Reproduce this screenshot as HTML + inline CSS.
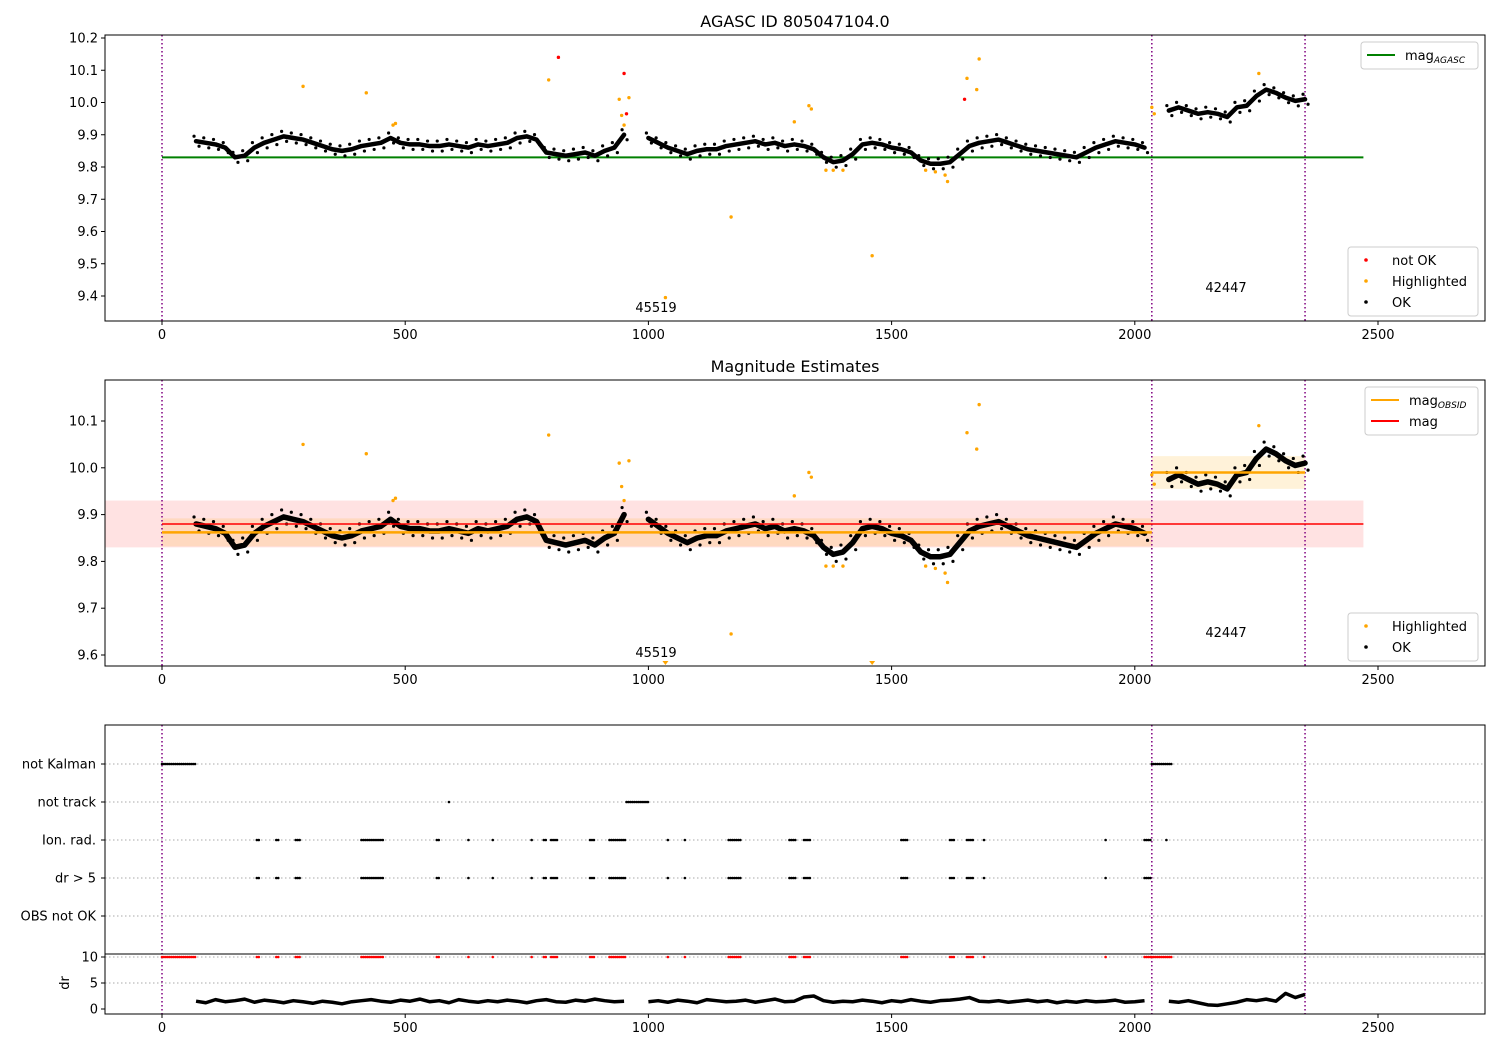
<!DOCTYPE html>
<html><head><meta charset="utf-8"><style>
body{margin:0;background:#fff;font-family:"Liberation Sans","DejaVu Sans",sans-serif}
svg text{font-family:"DejaVu Sans","Liberation Sans",sans-serif;fill:#000}
</style></head><body>
<svg id="chart" width="1500" height="1050" xmlns="http://www.w3.org/2000/svg"></svg>
<script>
const obsT=[70,90,110,130,150,170,190,210,230,250,270,290,310,330,350,370,390,410,430,450,470,490,510,530,550,570,590,610,630,650,670,690,710,730,750,770,790,810,830,850,870,890,910,930,950,970,1000,1020,1040,1060,1080,1100,1120,1140,1160,1180,1200,1220,1240,1260,1280,1300,1320,1340,1360,1380,1400,1420,1440,1460,1480,1500,1520,1540,1560,1580,1600,1620,1640,1660,1680,1700,1720,1740,1760,1780,1800,1820,1840,1860,1880,1900,1920,1940,1960,1980,2000,2020,2040,2070,2090,2110,2130,2150,2170,2190,2210,2230,2250,2270,2290,2310,2330,2350];
const obsMag=[9.88,9.875,9.87,9.86,9.83,9.835,9.86,9.875,9.885,9.895,9.89,9.885,9.875,9.865,9.855,9.85,9.855,9.865,9.87,9.875,9.89,9.875,9.87,9.87,9.865,9.865,9.87,9.865,9.86,9.87,9.865,9.87,9.875,9.89,9.895,9.885,9.845,9.84,9.835,9.84,9.845,9.835,9.85,9.86,9.9,null,9.89,9.875,9.86,9.85,9.84,9.85,9.855,9.855,9.865,9.87,9.875,9.88,9.87,9.875,9.865,9.87,9.865,9.855,9.83,9.815,9.82,9.84,9.87,9.875,9.87,9.86,9.855,9.845,9.82,9.81,9.81,9.815,9.84,9.865,9.875,9.88,9.885,9.875,9.865,9.855,9.85,9.845,9.84,9.835,9.83,9.845,9.86,9.87,9.88,9.875,9.87,9.86,null,9.975,9.985,9.975,9.965,9.97,9.965,9.955,9.985,9.99,10.02,10.04,10.03,10.015,10.005,10.01];
const drVals=[1.5,1.2,1.8,1.4,1.6,1.9,1.3,1.7,1.5,1.2,1.6,1.4,1.1,1.5,1.3,1.0,1.4,1.6,1.8,1.5,1.3,1.7,1.5,1.9,1.4,1.6,1.2,1.8,1.5,1.3,1.6,1.4,1.7,1.5,1.2,1.6,1.8,1.4,1.3,1.7,1.5,1.9,1.6,1.4,1.5,null,1.4,1.6,1.3,1.7,1.5,1.2,1.8,1.6,1.4,1.5,1.7,1.3,1.6,1.9,1.4,1.5,2.3,2.5,1.6,1.3,1.5,1.4,1.7,1.5,1.2,1.6,1.4,1.8,1.5,1.3,1.6,1.7,1.9,2.2,1.5,1.4,1.6,1.3,1.5,1.7,1.4,1.6,1.2,1.5,1.3,1.6,1.4,1.5,1.7,1.3,1.4,1.6,null,1.5,1.3,1.6,1.2,0.8,0.7,1.0,1.3,1.8,1.6,1.9,1.5,3.0,2.2,2.8];
const hiT=[290,420,480,475,795,940,945,960,950,1035,1170,1300,1330,1335,1365,1380,1400,1460,1570,1590,1610,1615,1655,1680,1675,2035,2040,2255];
const hiMag=[10.05,10.03,9.935,9.93,10.07,10.01,9.96,10.015,9.93,9.395,9.645,9.94,9.99,9.98,9.79,9.79,9.79,9.525,9.79,9.785,9.775,9.755,10.075,10.135,10.04,9.985,9.965,10.09];
const badT=[815,950,955,1650];
const badMag=[10.14,10.09,9.965,10.01];
const flagNames=["not Kalman","not track","Ion. rad.","dr > 5","OBS not OK"];
const notKalman=[[0,70],[2035,2075]];
const notTrack=[[590,590],[955,1000]];
const ionRad=[[195,200],[235,240],[275,285],[410,455],[565,570],[630,630],[680,680],[760,760],[785,790],[800,815],[880,890],[920,955],[1040,1040],[1075,1075],[1165,1190],[1290,1305],[1320,1335],[1520,1535],[1620,1630],[1655,1670],[1690,1690],[1940,1940],[2020,2035],[2065,2065]];
const drBig=[[195,200],[235,240],[275,285],[410,455],[565,570],[630,630],[680,680],[760,760],[785,790],[800,815],[880,890],[920,955],[1040,1040],[1075,1075],[1165,1190],[1290,1305],[1320,1335],[1520,1535],[1620,1630],[1655,1670],[1690,1690],[1940,1940],[2020,2035]];
const obsidBreaks=[0,2035,2350];
const xTicks=[0,500,1000,1500,2000,2500];
const y1Ticks=[9.4,9.5,9.6,9.7,9.8,9.9,10.0,10.1,10.2];
const y2Ticks=[9.6,9.7,9.8,9.9,10.0,10.1];
const drTicks=[0,5,10];
const magAgasc=9.83, magMean=9.88, magStd=0.05;
const obsidMag=[9.862,9.99], obsidStd=[0.03,0.035];

const S=document.getElementById('chart'),NS='http://www.w3.org/2000/svg';
function el(t,a,p){const e=document.createElementNS(NS,t);for(const k in a)e.setAttribute(k,a[k]);(p||S).appendChild(e);return e;}
const L=105,R=1485;
const X=v=>162+v*0.4864;
function mkY(v0,p0,v1,p1){return v=>p0+(v-v0)*(p1-p0)/(v1-v0);}
const Y1=mkY(10.2,38,9.4,296), Y2=mkY(10.1,421,9.6,655), YD=mkY(10,957,0,1009);
const rowY=[764,802,840,878,916];

function frame(top,bot,name){const r=el('rect',{x:L,y:top,width:R-L,height:bot-top,fill:'none',stroke:'#000','stroke-width':1});}
function xaxis(bot,labels){xTicks.forEach(t=>{el('line',{x1:X(t),x2:X(t),y1:bot,y2:bot+4,stroke:'#000'});if(labels){const tx=el('text',{x:X(t),y:bot+18,'text-anchor':'middle','font-size':13});tx.textContent=t;}});}
function yaxis(ticks,Y,fmt){ticks.forEach(t=>{el('line',{x1:L-4,x2:L,y1:Y(t),y2:Y(t),stroke:'#000'});const tx=el('text',{x:L-7,y:Y(t)+4.5,'text-anchor':'end','font-size':13});tx.textContent=fmt(t);});}
function vlines(top,bot){obsidBreaks.forEach(b=>{const l=el('line',{x1:X(b),x2:X(b),y1:top,y2:bot,stroke:'#800080','stroke-width':1.5,'stroke-dasharray':'1.5,2.5'});});}
function trace(Y,w,off,name){let seg=[];const g=el('g',{});
 const flush=()=>{if(seg.length>1)el('polyline',{points:seg.join(' '),fill:'none',stroke:'#000','stroke-width':w,'stroke-linejoin':'round','stroke-linecap':'round'},g);seg=[];};
 obsT.forEach((t,i)=>{const v=obsMag[i];if(v===null){flush();return;}seg.push(X(t)+','+Y(v));
  el('circle',{cx:X(t)-2,cy:Y(v)-off,r:1.6,fill:'#000'},g);el('circle',{cx:X(t)+3,cy:Y(v)+off,r:1.6,fill:'#000'},g);});flush();}
function dots(ts,vs,Y,col,top,bot,name){ts.forEach((t,i)=>{let y=Y(vs[i]);if(y>bot-2){y=bot-3;const p=el('path',{d:`M${X(t)-3},${y-2}L${X(t)+3},${y-2}L${X(t)},${y+2}Z`,fill:col});return;}const c=el('circle',{cx:X(t),cy:y,r:1.7,fill:col});});}
function txt(x,y,s,size,anchor,name){const t=el('text',{x:x,y:y,'font-size':size,'text-anchor':anchor||'start'});t.textContent=s;return t;}

// Panel 1
txt(795,27,'AGASC ID 805047104.0',16,'middle','panel1-title');
vlines(35,321);
const ag=el('line',{x1:X(0),x2:X(2470),y1:Y1(magAgasc),y2:Y1(magAgasc),stroke:'green','stroke-width':2});
trace(Y1,4.5,5,'ok-points-1');
dots(hiT,hiMag,Y1,'orange',35,321,'highlighted-point');
dots(badT,badMag,Y1,'red',35,321,'not-ok-point');
txt(656,312,'45519',13,'middle','obsid-label');txt(1226,292,'42447',13,'middle','obsid-label');
frame(35,321,'panel1-axes');xaxis(321,true);yaxis(y1Ticks,Y1,v=>v.toFixed(1));

// Panel 2
txt(795,372,'Magnitude Estimates',16,'middle','panel2-title');
const band=el('rect',{x:L,y:Y2(magMean+magStd),width:X(2470)-L,height:Y2(magMean-magStd)-Y2(magMean+magStd),fill:'#ffdddd',opacity:0.85});
obsidMag.forEach((m,i)=>{const x0=X(obsidBreaks[i]),x1=X(obsidBreaks[i+1]);const b=el('rect',{x:x0,y:Y2(m+obsidStd[i]),width:x1-x0,height:Y2(m-obsidStd[i])-Y2(m+obsidStd[i]),fill:'orange',opacity:0.15});});
vlines(380,666);
trace(Y2,5.5,7,'ok-points-2');
dots(hiT,hiMag,Y2,'orange',380,666,'highlighted-point');
obsidMag.forEach((m,i)=>{const l=el('line',{x1:X(obsidBreaks[i]),x2:X(obsidBreaks[i+1]),y1:Y2(m),y2:Y2(m),stroke:'orange','stroke-width':2.5});});
const ml=el('line',{x1:X(0),x2:X(2470),y1:Y2(magMean),y2:Y2(magMean),stroke:'red','stroke-width':1.5});
txt(656,657,'45519',13,'middle','obsid-label');txt(1226,637,'42447',13,'middle','obsid-label');
frame(380,666,'panel2-axes');xaxis(666,true);yaxis(y2Ticks,Y2,v=>v.toFixed(1));

// Panel 3 flags
rowY.forEach((y,i)=>{el('line',{x1:L,x2:R,y1:y,y2:y,stroke:'#aaa','stroke-dasharray':'1.5,2.5'});el('line',{x1:L-4,x2:L,y1:y,y2:y,stroke:'#000'});txt(L-9,y+4.5,flagNames[i],13,'end','flag-label');});
vlines(725,1014);
function runs(rs,y,col,name){rs.forEach(r=>{for(let t=r[0];t<=r[1];t+=4){const c=el('circle',{cx:X(t),cy:y,r:1.3,fill:col});}});}
runs(notKalman,rowY[0],'#000','not-kalman-flag');runs(notTrack,rowY[1],'#000','not-track-flag');runs(ionRad,rowY[2],'#000','ion-rad-flag');runs(drBig,rowY[3],'#000','dr-flag');
frame(725,954,'flags-axes');
// dr panel
[5,10].forEach(v=>el('line',{x1:L,x2:R,y1:YD(v),y2:YD(v),stroke:'#aaa','stroke-dasharray':'1.5,2.5'}));
runs(notKalman.concat(drBig),YD(10),'red','dr-high-point');
(function(){let seg=[];const g=el('g',{});
const fl=()=>{if(seg.length>1)el('polyline',{points:seg.join(' '),fill:'none',stroke:'#000','stroke-width':3.5,'stroke-linejoin':'round'},g);seg=[];};
obsT.forEach((t,i)=>{const v=drVals[i];if(v===null){fl();return;}seg.push(X(t)+','+YD(v));});fl();})();
frame(954,1014,'dr-axes');xaxis(1014,true);
drTicks.forEach(t=>{el('line',{x1:L-4,x2:L,y1:YD(t),y2:YD(t),stroke:'#000'});txt(L-7,YD(t)+4.5,String(t),13,'end','dr-tick-label');});
const dl=txt(0,0,'dr',13,'middle','dr-axis-title');dl.setAttribute('transform','translate(69,983) rotate(-90)');

// Legends
function legend(x,y,w,items,name){const g=el('g',{});
el('rect',{x:x,y:y,width:w,height:items.length*21+6,rx:3,fill:'#fff',stroke:'#ccc'},g);
items.forEach((it,i)=>{const cy=y+13+i*21;if(it.t==='line')el('line',{x1:x+6,x2:x+34,y1:cy,y2:cy,stroke:it.c,'stroke-width':2},g);else el('circle',{cx:x+18,cy:cy,r:1.8,fill:it.c},g);
const tx=el('text',{x:x+44,y:cy+5,'font-size':13},g);tx.textContent=it.l;if(it.sub){const s=el('tspan',{'font-size':9,'font-style':'italic',dy:3},tx);s.textContent=it.sub;}});}
legend(1361,42,117,[{t:'line',c:'green',l:'mag',sub:'AGASC'}],'legend-top-1');
legend(1348,247,130,[{c:'red',l:'not OK'},{c:'orange',l:'Highlighted'},{c:'#000',l:'OK'}],'legend-bottom-1');
legend(1365,387,113,[{t:'line',c:'orange',l:'mag',sub:'OBSID'},{t:'line',c:'red',l:'mag'}],'legend-top-2');
legend(1348,613,130,[{c:'orange',l:'Highlighted'},{c:'#000',l:'OK'}],'legend-bottom-2');
</script>
</body></html>
